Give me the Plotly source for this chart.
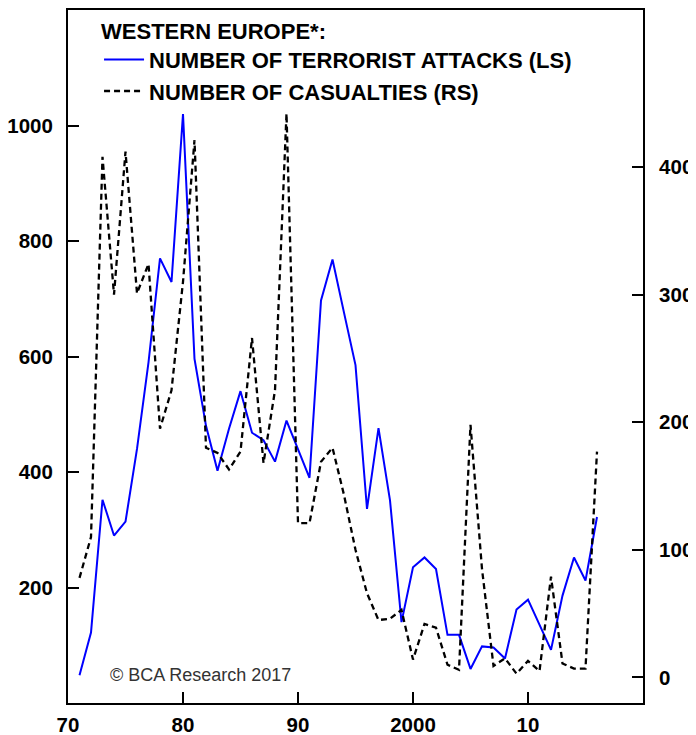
import plotly.graph_objects as go

years = list(range(1971, 2017))

# number of terrorist attacks, left scale
attacks = [48, 122, 352, 290, 314, 440, 590, 770, 729, 1020,
           596, 480, 402, 475, 540, 468, 455, 418, 489, 440,
           390, 697, 768, 676, 585, 336, 476, 351, 140, 235,
           252, 232, 118, 118, 59, 98, 96, 77, 162, 179,
           137, 92, 186, 252, 212, 322]

# number of casualties, right scale
casualties = [78, 110, 408, 300, 412, 301, 324, 195, 225, 310,
              421, 180, 176, 163, 177, 266, 168, 225, 442, 121,
              121, 169, 180, 143, 100, 66, 45, 46, 53, 14,
              42, 39, 10, 6, 198, 85, 9, 15, 3, 13,
              5, 79, 11, 7, 7, 177]

x_tickvals = [1970, 1980, 1990, 2000, 2010]
x_ticktext = ["70", "80", "90", "2000", "10"]
left_ticks = [200, 400, 600, 800, 1000]
right_ticks = [0, 100, 200, 300, 400]

FONT = "Liberation Sans, Arial, sans-serif"

fig = go.Figure()
fig.add_trace(go.Scatter(
    x=years, y=attacks, mode="lines", name="NUMBER OF TERRORIST ATTACKS (LS)",
    line=dict(color="#0000ff", width=2), legendgroup="a",
))
fig.add_trace(go.Scatter(
    x=years, y=casualties, mode="lines", name="NUMBER OF CASUALTIES (RS)",
    line=dict(color="black", width=2.3, dash="6px,4px"), yaxis="y2", legendgroup="b",
))

axis_common = dict(
    showline=True, linecolor="black", linewidth=2,
    ticks="inside", ticklen=11, tickwidth=2, tickcolor="black",
    showgrid=False, zeroline=False, automargin=False,
    tickfont=dict(family=FONT, size=20.5, color="black", weight="bold"),
)

# the page body keeps its default 8px margin, so the figure sits 8px in
fig.update_layout(
    width=688, height=727,
    margin=dict(l=60, r=53, t=2, b=32),
    plot_bgcolor="white", paper_bgcolor="white",
    font=dict(family=FONT),
    xaxis=dict(range=[1970, 2020], tickvals=x_tickvals, ticktext=x_ticktext,
               mirror=True, ticklabelstandoff=2, **axis_common),
    yaxis=dict(range=[0, 1200], tickvals=left_ticks, mirror=True,
               ticklabelstandoff=9, **axis_common),
    yaxis2=dict(range=[-20, 523], tickvals=right_ticks, overlaying="y",
                side="right", ticklabelstandoff=10, **axis_common),
    showlegend=True,
    legend=dict(
        x=0.054, y=1.0, xanchor="left", yanchor="top",
        bgcolor="rgba(0,0,0,0)", itemwidth=40, tracegroupgap=0,
        traceorder="grouped",
        font=dict(family=FONT, size=22, color="black", weight="bold"),
        title=dict(text="WESTERN EUROPE*:",
                   font=dict(family=FONT, size=22, color="black", weight="bold")),
    ),
    annotations=[dict(
        text="© BCA Research 2017", x=0.069, y=0.04, xref="paper", yref="paper",
        xanchor="left", yanchor="middle", showarrow=False,
        font=dict(family=FONT, size=18, color="#333333"),
    )],
)

fig.write_html("out.html")
